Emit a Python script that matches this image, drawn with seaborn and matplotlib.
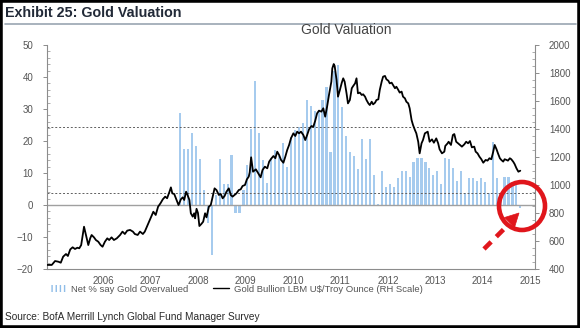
import numpy as np
import pandas as pd
import matplotlib
matplotlib.use("Agg")
import matplotlib.pyplot as plt
import seaborn as sns
from matplotlib.patches import Patch, Ellipse, Polygon, Rectangle
from matplotlib.lines import Line2D
from matplotlib.ticker import MultipleLocator, FixedLocator

# ---- data -------------------------------------------------------------
# Monthly survey: net % of fund managers saying gold is overvalued
survey_start = "2007-08"
net_overvalued = [
    28.7, 17.4, 17.4, 22.6, 18.5, 14.5, 4.7, -5.5, -15.6, 3.0, 14.5, 6.6, 6.6, 15.5, -2.4, -2.4,
    4.7, 12.5, 23.6, 38.8, 22.6, 14.0, 6.8, 14.6, 17.2, 15.3, 19.5, 11.8, 21.4, 23.4, 24.3, 25.5,
    32.8, 31.0, 29.5, 29.7, 32.8, 36.8, 16.7, 42.0, 43.6, 30.5, 21.6, 16.7, 15.3, 11.1, 20.5, 14.4,
    20.5, 9.4, 0.3, 10.7, 5.5, 6.5, 5.5, 8.3, 10.7, 10.7, 8.6, 13.5, 14.6, 14.6, 13.5,
    11.5, 9.4, 10.6, 6.6, 14.6, 14.3, 11.5, 7.6, 10.6, 3.6, 8.5, 8.5, 7.6, 8.5, 7.3, 3.6,
    19.6, 8.5, 3.6, 8.9, 8.9, 7.3, 7.3, -1.0,
]

# Gold bullion, US$ per troy ounce (decimal year, price)
gold_time = [
    2004.83, 2004.92, 2004.99, 2005.06, 2005.11, 2005.16, 2005.22, 2005.26, 2005.31, 2005.36,
    2005.41, 2005.46, 2005.50, 2005.54, 2005.57, 2005.60, 2005.64, 2005.69, 2005.73, 2005.76,
    2005.81, 2005.85, 2005.90, 2005.95, 2005.99, 2006.04, 2006.09, 2006.13, 2006.18, 2006.23,
    2006.29, 2006.36, 2006.41, 2006.46, 2006.51, 2006.57, 2006.63, 2006.67, 2006.73, 2006.78,
    2006.84, 2006.88, 2006.92, 2006.97, 2007.06, 2007.11, 2007.16, 2007.21, 2007.26, 2007.31,
    2007.35, 2007.40, 2007.43, 2007.46, 2007.50, 2007.55, 2007.59, 2007.64, 2007.68, 2007.71,
    2007.75, 2007.78, 2007.82, 2007.85, 2007.89, 2007.92, 2007.94, 2007.97, 2008.00, 2008.03,
    2008.07, 2008.11, 2008.15, 2008.18, 2008.23, 2008.27, 2008.31, 2008.35, 2008.39, 2008.44,
    2008.48, 2008.52, 2008.56, 2008.60, 2008.65, 2008.69, 2008.73, 2008.77, 2008.81, 2008.86,
    2008.90, 2008.94, 2008.99, 2009.03, 2009.07, 2009.09, 2009.12, 2009.16, 2009.22, 2009.27,
    2009.32, 2009.36, 2009.41, 2009.46, 2009.50, 2009.55, 2009.59, 2009.63, 2009.67, 2009.71,
    2009.75, 2009.80, 2009.84, 2009.88, 2009.92, 2009.96, 2010.01, 2010.05, 2010.09, 2010.13,
    2010.17, 2010.22, 2010.26, 2010.30, 2010.34, 2010.39, 2010.43, 2010.47, 2010.51, 2010.55,
    2010.60, 2010.64, 2010.68, 2010.72, 2010.76, 2010.81, 2010.83, 2010.86, 2010.88, 2010.92,
    2010.95, 2010.99, 2011.03, 2011.06, 2011.09, 2011.13, 2011.16, 2011.20, 2011.24, 2011.27,
    2011.31, 2011.34, 2011.37, 2011.41, 2011.45, 2011.48, 2011.52, 2011.55, 2011.59, 2011.62,
    2011.66, 2011.69, 2011.73, 2011.76, 2011.80, 2011.83, 2011.87, 2011.90, 2011.94, 2011.97,
    2012.01, 2012.04, 2012.08, 2012.11, 2012.15, 2012.18, 2012.22, 2012.25, 2012.29, 2012.32,
    2012.36, 2012.39, 2012.43, 2012.46, 2012.50, 2012.53, 2012.57, 2012.60, 2012.64, 2012.67,
    2012.71, 2012.74, 2012.78, 2012.84, 2012.88, 2012.93, 2012.97, 2013.02, 2013.06, 2013.09,
    2013.14, 2013.19, 2013.21, 2013.26, 2013.28, 2013.33, 2013.37, 2013.40, 2013.44, 2013.48,
    2013.52, 2013.56, 2013.61, 2013.65, 2013.69, 2013.73, 2013.77, 2013.82, 2013.85, 2013.89,
    2013.93, 2013.97, 2014.01, 2014.06, 2014.10, 2014.14, 2014.18, 2014.22, 2014.25, 2014.29,
    2014.32, 2014.36, 2014.39, 2014.43, 2014.46, 2014.50, 2014.53, 2014.57, 2014.60, 2014.64,
    2014.67, 2014.71, 2014.75, 2014.79,
]
gold_price = [
    429, 429, 457, 452, 445, 488, 507, 493, 540, 555,
    543, 552, 548, 571, 636, 702, 643, 571, 619, 643,
    626, 607, 595, 571, 559, 595, 619, 607, 626, 607,
    619, 643, 667, 650, 674, 679, 667, 650, 643, 667,
    650, 667, 698, 738, 809, 786, 845, 869, 898, 917,
    905, 952, 983, 940, 936, 893, 857, 898, 912, 893,
    952, 929, 893, 798, 774, 798, 762, 830, 800, 707,
    721, 738, 798, 769, 845, 857, 917, 976, 964, 929,
    936, 905, 921, 952, 976, 929, 917, 929, 940, 964,
    969, 993, 1000, 1040, 1060, 1090, 1198, 1095, 1112, 1083,
    1055, 1107, 1131, 1119, 1167, 1191, 1207, 1191, 1238, 1214,
    1179, 1159, 1202, 1250, 1286, 1334, 1369, 1350, 1381, 1369,
    1381, 1357, 1321, 1357, 1398, 1421, 1416, 1459, 1512, 1531,
    1524, 1548, 1488, 1559, 1643, 1738, 1833, 1864, 1850, 1750,
    1631, 1679, 1731, 1762, 1738, 1655, 1583, 1607, 1691, 1707,
    1726, 1762, 1655, 1660, 1643, 1648, 1631, 1607, 1583, 1571,
    1595, 1576, 1588, 1607, 1612, 1679, 1738, 1774, 1779, 1755,
    1745, 1726, 1731, 1714, 1691, 1702, 1679, 1660, 1667, 1631,
    1619, 1595, 1583, 1548, 1464, 1429, 1393, 1369, 1309, 1226,
    1298, 1321, 1369, 1381, 1309, 1326, 1302, 1333, 1298, 1255,
    1226, 1238, 1279, 1298, 1309, 1286, 1357, 1364, 1309, 1298,
    1286, 1274, 1290, 1309, 1298, 1314, 1269, 1274, 1238, 1226,
    1202, 1184, 1159, 1179, 1174, 1191, 1184, 1238, 1286, 1255,
    1226, 1191, 1179, 1167, 1184, 1179, 1174, 1191, 1184, 1167,
    1150, 1119, 1095, 1102,
]

# Reference bands on the survey scale
upper_band = 24.5
lower_band = 3.6

year_labels = list(range(2006, 2016))

# ---- style ------------------------------------------------------------
sns.set_style("white")
plt.rcParams["font.family"] = ["Liberation Sans", "DejaVu Sans"]

W, H = 580, 328
fig = plt.figure(figsize=(W / 100, H / 100), dpi=100)
fig.patch.set_facecolor("white")

def fx(px):
    return px / W

def fy(py):
    return 1 - py / H

ax = fig.add_axes([fx(47), fy(269), (535 - 47) / W, (269 - 45) / H])

bar_color = "#a6cbee"
grey_axis = "#8c8c8c"
grey_text = "#555555"

# ---- bars (left scale) ------------------------------------------------
months = pd.period_range(survey_start, periods=len(net_overvalued), freq="M")
bars = pd.DataFrame({
    "t": months.year + (months.month - 0.5) / 12.0,
    "net": net_overvalued,
})
sns.barplot(data=bars, x="t", y="net", native_scale=True, width=0.55,
            color=bar_color, saturation=1, errorbar=None, linewidth=0, ax=ax)

ax.axhline(0, color="#a0a0a0", lw=1.0, zorder=1)
for lvl in (upper_band, lower_band):
    ax.axhline(lvl, color="#606060", lw=0.7, ls=(0, (2.0, 2.0)), zorder=1)

ax.set_ylim(-20, 50)
ax.set_xlim(2004.82, 2015.1)
ax.set_xlabel("")
ax.set_ylabel("")

# ---- gold line (right scale) ------------------------------------------
ax2 = ax.twinx()
sns.lineplot(x=gold_time, y=gold_price, ax=ax2, color="black", lw=1.3,
             errorbar=None, sort=False)
ax2.set_ylim(400, 2000)
ax2.set_ylabel("")

# ---- axes cosmetics ---------------------------------------------------
ax.xaxis.set_major_locator(FixedLocator(year_labels))
ax.set_xticklabels([str(y) for y in year_labels])
ax.xaxis.set_minor_locator(MultipleLocator(0.25))
ax.yaxis.set_major_locator(MultipleLocator(10))
ax.yaxis.set_minor_locator(MultipleLocator(2))
ax2.yaxis.set_major_locator(MultipleLocator(200))
ax2.yaxis.set_minor_locator(MultipleLocator(50))

for a in (ax, ax2):
    a.tick_params(which="major", length=3, width=0.7, color=grey_axis,
                  labelsize=7, labelcolor=grey_text, direction="out")
    a.tick_params(which="minor", length=2, width=0.5, color=grey_axis)
ax.tick_params(axis="y", which="major", pad=7)
ax.tick_params(axis="y", which="minor", direction="in")
ax2.tick_params(axis="y", which="major", pad=7)
ax2.tick_params(axis="y", which="minor", direction="in")
ax.tick_params(axis="x", which="major", pad=2)
ax.tick_params(axis="x", which="minor", direction="out")

ax.spines["top"].set_visible(False)
ax.spines["right"].set_visible(False)
for s in ("left", "bottom"):
    ax.spines[s].set_color(grey_axis)
    ax.spines[s].set_linewidth(0.8)
for s in ("top", "left", "bottom"):
    ax2.spines[s].set_visible(False)
ax2.spines["right"].set_color(grey_axis)
ax2.spines["right"].set_linewidth(0.8)

# ---- legend -----------------------------------------------------------
plt.rcParams["hatch.linewidth"] = 1.0
handles = [
    Patch(facecolor="white", edgecolor="#8fbde8", hatch="||||", lw=0),
    Line2D([0], [0], color="black", lw=1.0),
]
labels = ["Net % say Gold Overvalued",
          "Gold Bullion LBM U$/Troy Ounce (RH Scale)"]
leg = ax2.legend(handles, labels, loc="center left",
                 bbox_to_anchor=(fx(50), fy(289)), bbox_transform=fig.transFigure,
                 ncol=2, frameon=False, fontsize=6.8, labelcolor=grey_text,
                 handlelength=1.7, handleheight=0.8, handletextpad=0.55,
                 columnspacing=2.6, borderpad=0, borderaxespad=0)

# ---- titles and source ------------------------------------------------
fig.text(fx(5), fy(13), "Exhibit 25: Gold Valuation", ha="left", va="center",
         fontsize=10.3, fontweight="bold", color="#222a38")
fig.add_artist(Line2D([fx(5), fx(576)], [fy(24), fy(24)], color="#9aa6b2", lw=1.2))
fig.text(fx(346), fy(30), "Gold Valuation", ha="center", va="center",
         fontsize=10, color="#444444")
fig.text(fx(5), fy(317), "Source: BofA Merrill Lynch Global Fund Manager Survey",
         ha="left", va="center", fontsize=7.3, color="#2a2a2a")

# ---- highlight of the latest reading ----------------------------------
red = "#e0161c"
fig.add_artist(Ellipse((fx(522), fy(206)), width=46 / W, height=48 / H,
                       transform=fig.transFigure, fill=False, ec=red, lw=3.3))
fig.add_artist(Line2D([fx(484), fx(509)], [fy(249), fy(224)], color=red, lw=3.3,
                      ls=(0, (2.2, 1.6)), solid_capstyle="butt", dash_capstyle="butt"))
fig.add_artist(Polygon([(fx(519), fy(213)), (fx(514.5), fy(227.5)), (fx(504.5), fy(217.5))],
                       closed=True, transform=fig.transFigure, fc=red, ec=red, lw=0.5))

# dark frame around the panel
fig.add_artist(Rectangle((0, 0), 1, 1, transform=fig.transFigure, fill=False,
                         ec="black", lw=4))

fig.savefig("out.png", dpi=100)
